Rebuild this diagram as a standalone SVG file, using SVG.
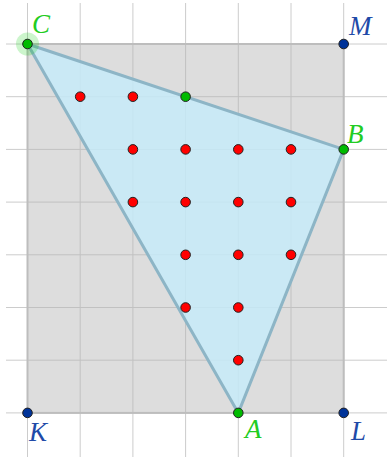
<svg xmlns="http://www.w3.org/2000/svg" width="387" height="457" viewBox="0 0 387 457">
<style>
.grid line{stroke:#cccccc;stroke-width:1}
.pt{stroke:#222;stroke-width:1}
.red{fill:#ff0000}
.green{fill:#00bb00}
.blue{fill:#003399}
.lbl{font-family:"Liberation Serif",serif;font-style:italic;font-size:27px}
.lg{fill:#22cc22}
.lb{fill:#1f4aa8}
</style>
<rect width="387" height="457" fill="#ffffff"/>
<g id="grid" class="grid">
<line x1="27.5" y1="3" x2="27.5" y2="457"/>
<line x1="80.2" y1="3" x2="80.2" y2="457"/>
<line x1="132.9" y1="3" x2="132.9" y2="457"/>
<line x1="185.6" y1="3" x2="185.6" y2="457"/>
<line x1="238.3" y1="3" x2="238.3" y2="457"/>
<line x1="291" y1="3" x2="291" y2="457"/>
<line x1="343.7" y1="3" x2="343.7" y2="457"/>
<line x1="6" y1="44" x2="387" y2="44"/>
<line x1="6" y1="96.7" x2="387" y2="96.7"/>
<line x1="6" y1="149.4" x2="387" y2="149.4"/>
<line x1="6" y1="202.1" x2="387" y2="202.1"/>
<line x1="6" y1="254.8" x2="387" y2="254.8"/>
<line x1="6" y1="307.5" x2="387" y2="307.5"/>
<line x1="6" y1="360.2" x2="387" y2="360.2"/>
<line x1="6" y1="412.9" x2="387" y2="412.9"/>
</g>
<g id="rectangle">
<rect x="27.5" y="44" width="316.2" height="368.9" fill="#b4b4b4" fill-opacity="0.45" stroke="#bdbdbd" stroke-width="2"/>
</g>
<g id="triangle">
<polygon points="27.5,44 343.7,149.4 238.3,412.9" fill="#c6ecfb" fill-opacity="0.8" stroke="#8db5c6" stroke-width="3" stroke-linejoin="round"/>
</g>
<g id="lattice">
<circle class="pt red" cx="80.2" cy="96.7" r="4.8"/>
<circle class="pt red" cx="132.9" cy="96.7" r="4.8"/>
<circle class="pt green" cx="185.6" cy="96.7" r="4.8"/>
<circle class="pt red" cx="132.9" cy="149.4" r="4.8"/>
<circle class="pt red" cx="185.6" cy="149.4" r="4.8"/>
<circle class="pt red" cx="238.3" cy="149.4" r="4.8"/>
<circle class="pt red" cx="291" cy="149.4" r="4.8"/>
<circle class="pt red" cx="132.9" cy="202.1" r="4.8"/>
<circle class="pt red" cx="185.6" cy="202.1" r="4.8"/>
<circle class="pt red" cx="238.3" cy="202.1" r="4.8"/>
<circle class="pt red" cx="291" cy="202.1" r="4.8"/>
<circle class="pt red" cx="185.6" cy="254.8" r="4.8"/>
<circle class="pt red" cx="238.3" cy="254.8" r="4.8"/>
<circle class="pt red" cx="291" cy="254.8" r="4.8"/>
<circle class="pt red" cx="185.6" cy="307.5" r="4.8"/>
<circle class="pt red" cx="238.3" cy="307.5" r="4.8"/>
<circle class="pt red" cx="238.3" cy="360.2" r="4.8"/>
</g>
<g id="C">
<circle cx="27.5" cy="44" r="11.5" fill="#00cc00" fill-opacity="0.2"/>
<circle class="pt green" cx="27.5" cy="44" r="4.8"/>
<text class="lbl lg" x="32" y="33">C</text>
</g>
<g id="M">
<circle class="pt blue" cx="343.7" cy="44" r="4.8"/>
<text class="lbl lb" x="349" y="35">M</text>
</g>
<g id="B">
<circle class="pt green" cx="343.7" cy="149.4" r="4.8"/>
<text class="lbl lg" x="347" y="143">B</text>
</g>
<g id="A">
<circle class="pt green" cx="238.3" cy="412.9" r="4.8"/>
<text class="lbl lg" x="245" y="438">A</text>
</g>
<g id="K">
<circle class="pt blue" cx="27.5" cy="412.9" r="4.8"/>
<text class="lbl lb" x="29" y="441">K</text>
</g>
<g id="L">
<circle class="pt blue" cx="343.7" cy="412.9" r="4.8"/>
<text class="lbl lb" x="351" y="440">L</text>
</g>
</svg>
